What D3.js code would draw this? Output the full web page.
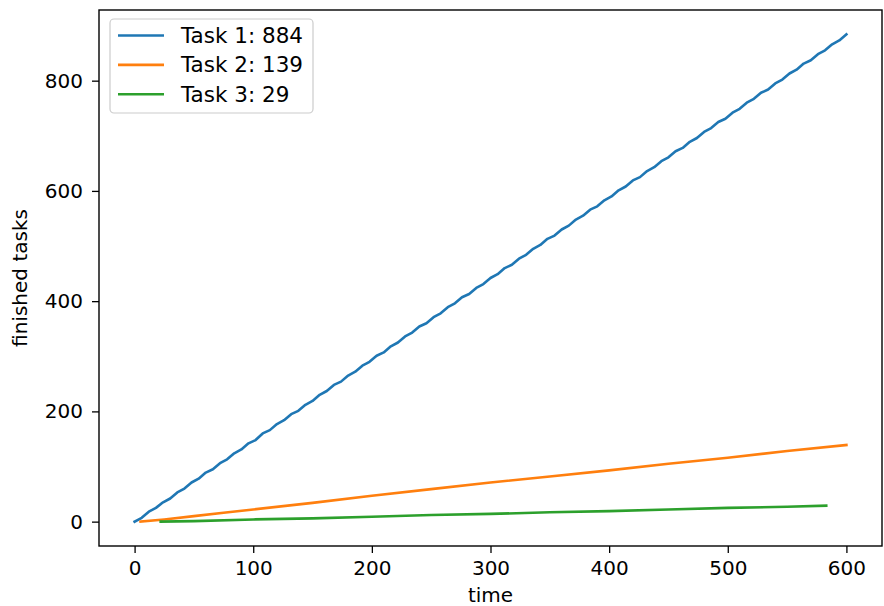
<!DOCTYPE html>
<html>
<head>
<meta charset="utf-8">
<script src="https://cdn.jsdelivr.net/npm/d3@7"></script>
<style>
  html, body { margin: 0; padding: 0; background: #fff; }
  svg { display: block; font-family: "DejaVu Sans", sans-serif; }
</style>
</head>
<body>
<svg id="chart" width="884" height="606"></svg>
<script>
// ---- data ----
const task1Times = [0,6,12,18,24,30,36,42,48,54,60,66,72,78,84,90,96,102,108,114,120,126,132,138,144,150,156,162,168,174,180,186,192,198,204,210,216,222,228,234,240,246,252,258,264,270,276,282,288,294,300,306,312,318,324,330,336,342,348,354,360,366,372,378,384,390,396,402,408,414,420,426,432,438,444,450,456,462,468,474,480,486,492,498,504,510,516,522,528,534,540,546,552,558,564,570,576,582,588,594,600];
const task1Counts = [0,7,18,25,35,42,53,60,71,78,89,95,106,113,124,131,142,148,160,166,177,184,195,201,212,219,230,237,248,254,265,272,283,290,301,307,318,325,336,343,354,360,371,378,389,396,407,413,424,431,442,449,460,466,477,484,495,502,513,519,530,537,548,555,566,572,583,590,601,608,619,625,636,643,654,661,672,678,689,696,707,714,725,731,742,749,760,767,778,784,795,802,813,820,831,837,848,855,866,873,884];
const task2Times = [5,25,50,75,100,150,200,250,300,350,400,450,500,550,600];
const task2Counts = [0,4,10,16,22,34,47,59,71,82,93,105,116,128,139];
const task3Times = [22,50,100,150,200,250,300,350,400,450,500,550,583];
const task3Counts = [0,1,4,6,9,12,14,17,19,22,25,27,29];
const seriesNames = ["Task 1: 884", "Task 2: 139", "Task 3: 29"];
const seriesColors = ["#1f77b4", "#ff7f0e", "#2ca02c"];
const xTicks = [0,100,200,300,400,500,600];
const yTicks = [0,200,400,600,800];
const xLabel = "time";
const yLabel = "finished tasks";

// ---- layout ----
const FS = 20;
const LFS = 21.5;
const svg = d3.select("#chart");
const plot = { left: 99, right: 882, top: 10, bottom: 546 };
const x = d3.scaleLinear().domain([-30, 630]).range([plot.left, plot.right]);
const y = d3.scaleLinear().domain([-44.2, 928.2]).range([plot.bottom, plot.top]);

const series = [
  { times: task1Times, counts: task1Counts },
  { times: task2Times, counts: task2Counts },
  { times: task3Times, counts: task3Counts }
];

const line = d3.line().x(d => x(d[0])).y(d => y(d[1]));
const g = svg.append("g");
series.forEach((s, i) => {
  const pts = s.times.map((t, j) => [t, s.counts[j]]);
  g.append("path").datum(pts)
    .attr("d", line)
    .attr("fill", "none")
    .attr("stroke", seriesColors[i])
    .attr("stroke-width", 2.6)
    .attr("stroke-linejoin", "round")
    .attr("stroke-linecap", "square");
});

// axes
const xAxis = d3.axisBottom(x).tickValues(xTicks).tickSize(7).tickPadding(8).tickFormat(d3.format("d"));
const yAxis = d3.axisLeft(y).tickValues(yTicks).tickSize(7).tickPadding(9).tickFormat(d3.format("d"));
const gx = svg.append("g").attr("transform", `translate(0,${plot.bottom})`).call(xAxis);
const gy = svg.append("g").attr("transform", `translate(${plot.left},0)`).call(yAxis);
[gx, gy].forEach(a => {
  a.select(".domain").remove();
  a.selectAll(".tick line").attr("stroke", "#000").attr("stroke-width", 1.3);
  a.selectAll(".tick text").attr("font-size", FS).attr("fill", "#000").attr("font-family", "DejaVu Sans");
});

// frame
svg.append("rect")
  .attr("x", plot.left).attr("y", plot.top)
  .attr("width", plot.right - plot.left).attr("height", plot.bottom - plot.top)
  .attr("fill", "none").attr("stroke", "#000").attr("stroke-width", 1.4);

// axis labels
svg.append("text").attr("x", (plot.left + plot.right) / 2).attr("y", 602)
  .attr("text-anchor", "middle").attr("font-size", FS).text(xLabel);
svg.append("text").attr("transform", `translate(27,${(plot.top + plot.bottom) / 2}) rotate(-90)`)
  .attr("text-anchor", "middle").attr("font-size", FS).text(yLabel);

// legend
const lg = svg.append("g");
lg.append("rect").attr("x", 110).attr("y", 19).attr("width", 203).attr("height", 94)
  .attr("rx", 4).attr("fill", "#fff").attr("fill-opacity", 0.8)
  .attr("stroke", "#ccc").attr("stroke-width", 1.2);
seriesNames.forEach((name, i) => {
  const yy = 35.5 + i * 29.4;
  lg.append("line").attr("x1", 118).attr("x2", 164).attr("y1", yy).attr("y2", yy)
    .attr("stroke", seriesColors[i]).attr("stroke-width", 2.6);
  lg.append("text").attr("x", 181).attr("y", yy + 7.5).attr("font-size", LFS).attr("fill", "#000").text(name);
});
</script>
</body>
</html>
